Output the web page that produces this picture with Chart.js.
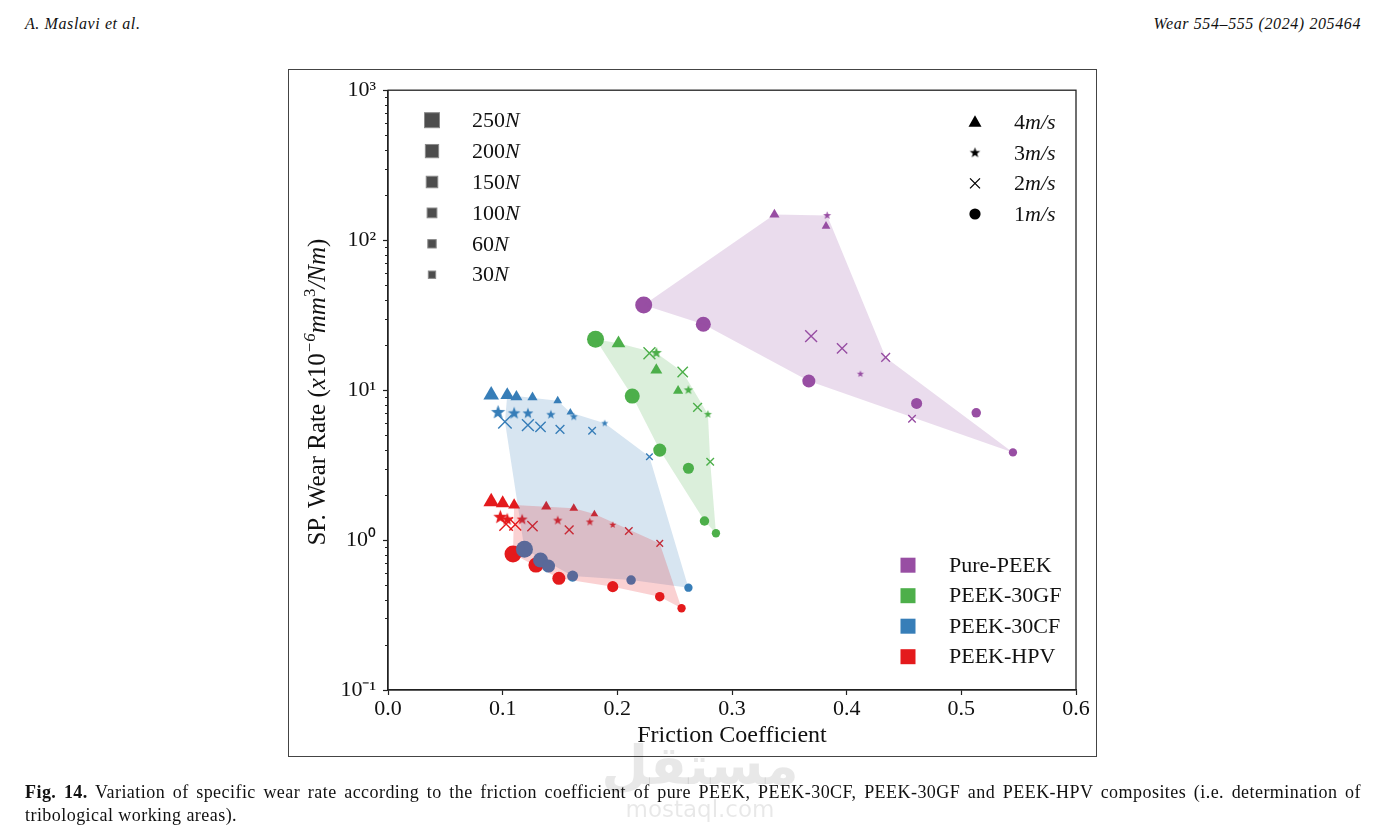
<!DOCTYPE html>
<html>
<head>
<meta charset="utf-8">
<script src="https://cdn.jsdelivr.net/npm/chart.js@4.4.1/dist/chart.umd.min.js"></script>
<style>
    body { margin: 0; background: #fff; width: 1375px; height: 838px; position: relative; overflow: hidden; font-family: 'Liberation Serif', serif; color: #111; }
    .hdr { position: absolute; top: 15px; font-style: italic; font-size: 16px; letter-spacing: 0.6px; }
    #frame { position: absolute; left: 288px; top: 69px; width: 809px; height: 688px; border: 1px solid #444; box-sizing: border-box; background: #fff; }
    #frame canvas { display: block; }
    .wm { position: absolute; color: rgba(0, 0, 0, 0.09); text-align: center; width: 200px; left: 600px; }
    .cap { position: absolute; left: 25px; width: 1336px; font-size: 18px; line-height: 22px; letter-spacing: 0.45px; }
    .cap.first { text-align: justify; text-align-last: justify; }
</style>
</head>
<body>
<div class="hdr" style="left:25px">A. Maslavi et al.</div>
<div class="hdr" style="right:14px">Wear 554–555 (2024) 205464</div>

<div id="frame"><canvas id="wearChart"></canvas></div>

<div class="wm" style="top:734px; font: bold 54px 'DejaVu Sans';">مستقل</div>
<div class="wm" style="top:796px; font: 23px 'DejaVu Sans';">mostaql.com</div>

<div class="cap first" style="top:781px"><b>Fig. 14.</b> Variation of specific wear rate according to the friction coefficient of pure PEEK, PEEK-30CF, PEEK-30GF and PEEK-HPV composites (i.e. determination of</div>
<div class="cap" style="top:804px">tribological working areas).</div>

<script>
// Data: [friction coefficient, wear rate (x1e-6 mm3/Nm), load N]
const pureTri    = [[0.337, 148, 100], [0.382, 124, 60]];
const pureStar   = [[0.383, 146, 60], [0.412, 12.8, 30]];
const pureCross  = [[0.369, 22.9, 200], [0.396, 19.0, 150], [0.434, 16.5, 100], [0.457, 6.44, 60]];
const pureCircle = [[0.223, 36.9, 250], [0.275, 27.5, 200], [0.367, 11.5, 150], [0.461, 8.15, 100], [0.513, 7.06, 60], [0.545, 3.84, 30]];

const gfTri    = [[0.201, 20.5, 200], [0.234, 13.6, 150], [0.253, 9.89, 100]];
const gfStar   = [[0.234, 17.7, 150], [0.262, 10.0, 100], [0.279, 6.89, 60]];
const gfCross  = [[0.228, 17.6, 200], [0.257, 13.2, 150], [0.270, 7.67, 100], [0.281, 3.33, 60]];
const gfCircle = [[0.181, 21.8, 250], [0.213, 9.12, 200], [0.237, 3.98, 150], [0.262, 3.01, 100], [0.276, 1.34, 60], [0.286, 1.11, 30]];

const cfTri    = [[0.090, 9.26, 250], [0.104, 9.26, 200], [0.112, 9.02, 150], [0.126, 8.94, 100], [0.148, 8.48, 60], [0.159, 7.10, 30]];
const cfStar   = [[0.096, 7.10, 250], [0.110, 6.99, 200], [0.122, 6.99, 150], [0.142, 6.85, 100], [0.162, 6.64, 60], [0.189, 6.00, 30]];
const cfCross  = [[0.102, 6.15, 250], [0.122, 5.84, 200], [0.133, 5.69, 150], [0.150, 5.47, 100], [0.178, 5.35, 60], [0.228, 3.59, 30]];
const cfCircle = [[0.119, 0.867, 250], [0.133, 0.736, 200], [0.140, 0.671, 150], [0.161, 0.575, 100], [0.212, 0.541, 60], [0.262, 0.481, 30]];

const hpvTri    = [[0.090, 1.80, 250], [0.100, 1.76, 200], [0.110, 1.71, 150], [0.138, 1.67, 100], [0.162, 1.63, 60], [0.180, 1.49, 30]];
const hpvStar   = [[0.098, 1.42, 250], [0.104, 1.37, 200], [0.117, 1.37, 150], [0.148, 1.35, 100], [0.176, 1.32, 60], [0.196, 1.26, 30]];
const hpvCross  = [[0.103, 1.28, 250], [0.111, 1.27, 200], [0.126, 1.24, 150], [0.158, 1.17, 100], [0.210, 1.15, 60], [0.237, 0.95, 30]];
const hpvCircle = [[0.109, 0.807, 250], [0.129, 0.681, 200], [0.149, 0.556, 150], [0.196, 0.489, 100], [0.237, 0.419, 60], [0.256, 0.351, 30]];

// Working areas (polygon corners)
const pureArea = [[0.223, 36.9], [0.337, 148], [0.383, 146], [0.434, 16.5], [0.545, 3.84], [0.367, 11.5], [0.275, 27.5]];
const gfArea   = [[0.181, 21.8], [0.201, 20.5], [0.234, 17.7], [0.257, 13.2], [0.279, 6.89], [0.281, 3.33], [0.286, 1.11], [0.276, 1.34], [0.237, 3.98], [0.213, 9.12]];
const cfArea   = [[0.104, 9.26], [0.148, 8.48], [0.159, 7.10], [0.189, 6.00], [0.228, 3.59], [0.262, 0.481], [0.212, 0.541], [0.161, 0.575], [0.119, 0.867], [0.102, 6.15]];
const hpvArea  = [[0.110, 1.71], [0.162, 1.63], [0.180, 1.49], [0.237, 0.95], [0.256, 0.351], [0.237, 0.419], [0.196, 0.489], [0.149, 0.556], [0.109, 0.807]];

const seriesNames = ['Pure-PEEK', 'PEEK-30GF', 'PEEK-30CF', 'PEEK-HPV'];
const loadLabels = [250, 200, 150, 100, 60, 30];
const speedLabels = ['4', '3', '2', '1'];
const xTicks = [0, 0.1, 0.2, 0.3, 0.4, 0.5, 0.6];
const yTicks = [0.1, 1, 10, 100, 1000];
const yTickLabels = ['10⁻¹', '10⁰', '10¹', '10²', '10³'];

const COLORS = ['#984ea3', '#4daf4a', '#377eb8', '#e41a1c'];
const FILLS = ['rgba(152,78,163,0.2)', 'rgba(77,175,74,0.2)', 'rgba(55,126,184,0.2)', 'rgba(228,26,28,0.2)'];
const SERIF = 'Liberation Serif';

const shapeBase = { circle: 8.5, triangle: 9, crossRot: 9.5, star: 7.5 };
const loadScale = load => 0.42 + 0.58 * load / 250;

function starImage(color, r) {
    const c = document.createElement('canvas');
    const s = Math.ceil(r * 2 + 2);
    c.width = s;
    c.height = s;
    const g = c.getContext('2d');
    g.fillStyle = color;
    g.beginPath();
    for (let i = 0; i < 10; i++) {
        const rad = i % 2 ? r * 0.42 : r;
        const a = -Math.PI / 2 + i * Math.PI / 5;
        g.lineTo(s / 2 + rad * Math.cos(a), s / 2 + rad * Math.sin(a));
    }
    g.closePath();
    g.fill();
    return c;
}

function markerSet(points, shape, color) {
    const radii = points.map(p => shapeBase[shape] * loadScale(p[2]));
    const ds = {
        data: points.map(p => ({ x: p[0], y: p[1] })),
        order: 10,
        pointRadius: radii,
        pointHoverRadius: radii
    };
    if (shape === 'star') {
        ds.pointStyle = radii.map(r => starImage(color, r));
    } else if (shape === 'crossRot') {
        ds.pointStyle = 'crossRot';
        ds.pointBorderColor = color;
        ds.pointBorderWidth = 1.4;
    } else {
        ds.pointStyle = shape;
        ds.pointBackgroundColor = color;
        ds.pointBorderWidth = 0;
    }
    return ds;
}

function areaSet(corners, fillColor, order) {
    return {
        type: 'line',
        data: corners.map(p => ({ x: p[0], y: p[1] })),
        fill: 'shape',
        backgroundColor: fillColor,
        borderColor: 'transparent',
        borderWidth: 0,
        pointRadius: 0,
        tension: 0,
        order: order
    };
}

const groups = [
    [pureTri, pureStar, pureCross, pureCircle],
    [gfTri, gfStar, gfCross, gfCircle],
    [cfTri, cfStar, cfCross, cfCircle],
    [hpvTri, hpvStar, hpvCross, hpvCircle]
];
const shapes = ['triangle', 'star', 'crossRot', 'circle'];

const datasets = [];
groups.forEach((g, i) => {
    g.forEach((pts, j) => datasets.push(markerSet(pts, shapes[j], COLORS[i])));
});
// fills go over the markers, blue drawn before red
datasets.push(areaSet(pureArea, FILLS[0], 4));
datasets.push(areaSet(gfArea, FILLS[1], 3));
datasets.push(areaSet(cfArea, FILLS[2], 2));
datasets.push(areaSet(hpvArea, FILLS[3], 1));

// draws a row of text pieces: [text, font, raise]
function richText(ctx, parts, x, y) {
    parts.forEach(([t, f, up]) => {
        ctx.font = f;
        ctx.fillText(t, x, y - (up || 0));
        x += ctx.measureText(t).width;
    });
}
function richWidth(ctx, parts) {
    let w = 0;
    parts.forEach(([t, f]) => { ctx.font = f; w += ctx.measureText(t).width; });
    return w;
}

const decorPlugin = {
    id: 'decor',
    afterDatasetsDraw(chart) {
        const { ctx, chartArea: a, scales } = chart;
        ctx.save();
        // top & right spines
        ctx.strokeStyle = '#222';
        ctx.lineWidth = 1.3;
        ctx.strokeRect(a.left, a.top, a.right - a.left, a.bottom - a.top);

        // minor log ticks
        ctx.lineWidth = 1;
        ctx.beginPath();
        for (let e = -1; e < 3; e++) {
            for (let m = 2; m < 10; m++) {
                const py = Math.round(scales.y.getPixelForValue(m * Math.pow(10, e))) + 0.5;
                ctx.moveTo(a.left - 3, py);
                ctx.lineTo(a.left, py);
            }
        }
        ctx.stroke();

        ctx.fillStyle = '#111';
        ctx.textBaseline = 'middle';
        const reg = `22px "${SERIF}"`;
        const ita = `italic 22px "${SERIF}"`;

        // load legend
        loadLabels.forEach((load, i) => {
            const cx = a.left + 44, cy = a.top + 30 + i * 30.9;
            const s = 15 * loadScale(load);
            ctx.fillStyle = '#4d4d4d';
            ctx.fillRect(cx - s / 2, cy - s / 2, s, s);
            ctx.strokeStyle = '#8a8a8a';
            ctx.lineWidth = 1;
            ctx.strokeRect(cx - s / 2, cy - s / 2, s, s);
            ctx.fillStyle = '#111';
            richText(ctx, [[String(load), reg], ['N', ita]], a.left + 84, cy + 1);
        });

        // speed legend
        speedLabels.forEach((sp, i) => {
            const cx = a.left + 587, cy = a.top + 32 + i * 30.6;
            ctx.fillStyle = '#000';
            ctx.strokeStyle = '#000';
            ctx.beginPath();
            if (shapes[i] === 'triangle') {
                ctx.moveTo(cx, cy - 7);
                ctx.lineTo(cx + 6.5, cy + 4.5);
                ctx.lineTo(cx - 6.5, cy + 4.5);
                ctx.closePath();
                ctx.fill();
            } else if (shapes[i] === 'star') {
                const img = starImage('#000', 5.5);
                ctx.drawImage(img, cx - img.width / 2, cy - img.height / 2);
            } else if (shapes[i] === 'crossRot') {
                ctx.lineWidth = 1.3;
                ctx.moveTo(cx - 5, cy - 5); ctx.lineTo(cx + 5, cy + 5);
                ctx.moveTo(cx + 5, cy - 5); ctx.lineTo(cx - 5, cy + 5);
                ctx.stroke();
            } else {
                ctx.arc(cx, cy, 5.6, 0, Math.PI * 2);
                ctx.fill();
            }
            ctx.fillStyle = '#111';
            richText(ctx, [[sp, reg], ['m/s', ita]], a.left + 626, cy + 1);
        });

        // material legend
        seriesNames.forEach((name, i) => {
            const cx = a.left + 520, cy = a.top + 475 + i * 30.5;
            ctx.fillStyle = COLORS[i];
            ctx.fillRect(cx - 7.5, cy - 7.5, 15, 15);
            ctx.fillStyle = '#111';
            ctx.font = reg;
            ctx.fillText(name, a.left + 561, cy + 1);
        });

        // y axis title
        const parts = [
            ['SP. Wear Rate (', `25px "${SERIF}"`],
            ['x', `italic 25px "${SERIF}"`],
            ['10', `25px "${SERIF}"`],
            ['−6', `italic 17px "${SERIF}"`, 10],
            ['mm', `italic 25px "${SERIF}"`],
            ['3', `17px "${SERIF}"`, 10],
            ['/Nm', `italic 25px "${SERIF}"`],
            [')', `25px "${SERIF}"`]
        ];
        ctx.translate(28, (a.top + a.bottom) / 2 + 2);
        ctx.rotate(-Math.PI / 2);
        ctx.textBaseline = 'alphabetic';
        ctx.fillStyle = '#111';
        richText(ctx, parts, -richWidth(ctx, parts) / 2, 8);
        ctx.restore();
    }
};

const ctx = document.getElementById('wearChart').getContext('2d');
Chart.defaults.font.family = SERIF;
Chart.defaults.color = '#111';

new Chart(ctx, {
    type: 'scatter',
    data: { datasets: datasets },
    options: {
        responsive: true,
        maintainAspectRatio: false,
        animation: false,
        events: [],
        layout: { padding: { top: 20, right: 20, left: 0, bottom: 0 } },
        plugins: {
            legend: { display: false },
            tooltip: { enabled: false }
        },
        scales: {
            x: {
                type: 'linear',
                min: 0,
                max: 0.6,
                afterFit: s => { s.height = 66; },
                afterBuildTicks: s => { s.ticks = xTicks.map(v => ({ value: v })); },
                ticks: {
                    callback: v => v.toFixed(1),
                    font: { size: 22 },
                    color: '#111',
                    padding: 1,
                    maxRotation: 0,
                    autoSkip: false
                },
                grid: { drawOnChartArea: false, drawTicks: true, tickLength: 5, color: '#222', tickWidth: 1.2 },
                border: { color: '#222', width: 1.3 },
                title: {
                    display: true,
                    text: 'Friction Coefficient',
                    font: { size: 24 },
                    color: '#111',
                    padding: { top: 0, bottom: 6 }
                }
            },
            y: {
                type: 'logarithmic',
                min: 0.1,
                max: 1000,
                afterFit: s => { s.width = 99; },
                afterBuildTicks: s => { s.ticks = yTicks.map(v => ({ value: v, major: true })); },
                ticks: {
                    callback: (v, i) => yTickLabels[i],
                    font: { size: 22 },
                    color: '#111',
                    padding: 7,
                    autoSkip: false
                },
                grid: { drawOnChartArea: false, drawTicks: true, tickLength: 5, color: '#222', tickWidth: 1.2 },
                border: { color: '#222', width: 1.3 }
            }
        }
    },
    plugins: [decorPlugin]
});
</script>
</body>
</html>
